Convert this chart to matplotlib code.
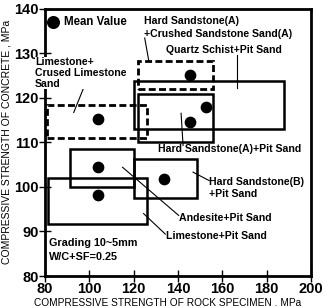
import matplotlib.pyplot as plt
from matplotlib.patches import Rectangle

plt.rcParams['font.family'] = ['Liberation Sans', 'DejaVu Sans']
plt.rcParams['font.weight'] = 'bold'

# ranges of each aggregate group: rock strength (x) and concrete strength (y)
groups = ['Limestone+Crused Limestone Sand', 'Hard Sandstone(A)+Crushed Sandstone Sand(A)',
          'Quartz Schist+Pit Sand', 'Hard Sandstone(A)+Pit Sand',
          'Hard Sandstone(B)+Pit Sand', 'Andesite+Pit Sand', 'Limestone+Pit Sand']
x_min = [81, 122, 120, 122, 120, 91.5, 81.5]
x_max = [126, 156, 188, 156, 148.5, 120, 126]
y_min = [111, 122, 113, 110, 97.5, 100, 91.6]
y_max = [118.3, 128.2, 123.7, 120.8, 106.2, 108.4, 102]
dashed = [True, True, False, False, False, False, False]

# mean values
mean_x = [104, 145.5, 152.7, 145.5, 133.6, 104, 104]
mean_y = [115.2, 125.1, 117.9, 114.5, 101.7, 104.4, 98.1]

fig = plt.figure(figsize=(3.23, 3.06), dpi=100)
ax = fig.add_axes([0.139, 0.098, 0.824, 0.874])

for x0, x1, y0, y1, d in zip(x_min, x_max, y_min, y_max, dashed):
    ax.add_patch(Rectangle((x0, y0), x1 - x0, y1 - y0, fill=False, color='black',
                           lw=2.0 if d else 1.8, ls=(0, (2.5, 1.2)) if d else '-'))

ax.scatter(mean_x, mean_y, s=55, color='black', zorder=3)

ax.set_xlim(80, 200)
ax.set_ylim(80, 140)
ax.set_xticks(range(80, 201, 20))
ax.set_yticks(range(80, 141, 10))
ax.tick_params(direction='inout', length=8, width=1, labelsize=10.5, pad=0.5)
for s in ax.spines.values():
    s.set_linewidth(2)
ax.set_xlabel('COMPRESSIVE STRENGTH OF ROCK SPECIMEN , MPa', fontsize=7.3)
ax.set_ylabel('COMPRESSIVE STRENGTH OF CONCRETE , MPa', fontsize=7.5)
ax.xaxis.set_label_coords(0.46, -0.08)
ax.yaxis.set_label_coords(-0.125, 0.5)

fs = 7.6
ax.scatter([83.6], [137.0], s=70, color='black', clip_on=False)
ax.text(88.6, 137.0, 'Mean Value', fontsize=8.3, va='center')

ax.text(124.5, 138.3, 'Hard Sandstone(A)\n+Crushed Sandstone Sand(A)', fontsize=fs, va='top',
        linespacing=1.3)
ax.plot([125, 126.8], [133.4, 128.4], color='black', lw=0.8)

ax.text(134.5, 130.7, 'Quartz Schist+Pit Sand', fontsize=fs, va='center')
ax.plot([166.8, 166.8], [129.6, 122.1], color='black', lw=0.8)

ax.text(75.5, 129.2, 'Limestone+\nCrused Limestone\nSand', fontsize=fs, va='top',
        linespacing=1.15, clip_on=False,
        bbox=dict(facecolor='white', edgecolor='none', pad=0))
ax.plot([97.3, 93.0], [122.0, 116.7], color='black', lw=0.8)

ax.text(130.9, 108.4, 'Hard Sandstone(A)+Pit Sand', fontsize=fs, va='center')
ax.plot([142.3, 141.4], [109.3, 116.5], color='black', lw=0.8)

ax.text(154.1, 102.2, 'Hard Sandstone(B)\n+Pit Sand', fontsize=fs, va='top', linespacing=1.2)
ax.plot([146.8, 154.1], [103.3, 101.4], color='black', lw=0.8)

ax.text(140.5, 93.1, 'Andesite+Pit Sand', fontsize=fs, va='center')
ax.plot([115, 140.3], [104.4, 93.6], color='black', lw=0.8)

ax.text(134.5, 88.9, 'Limestone+Pit Sand', fontsize=fs, va='center')
ax.plot([124.5, 134.3], [94.0, 89.4], color='black', lw=0.8)

ax.text(81.8, 87.3, 'Grading 10~5mm', fontsize=7.8, va='center')
ax.text(81.8, 84.2, 'W/C+SF=0.25', fontsize=7.8, va='center')

fig.savefig('out.png', dpi=100)
